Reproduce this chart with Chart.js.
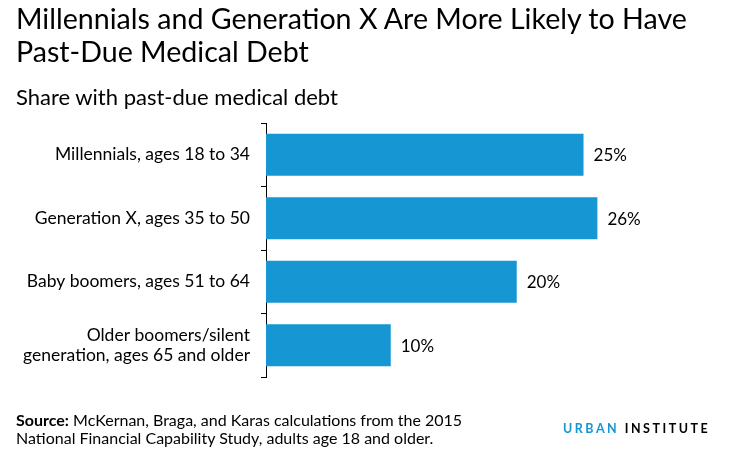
<!DOCTYPE html>
<html>
<head>
<meta charset="utf-8">
<script src="https://cdn.jsdelivr.net/npm/chart.js@4"></script>
<style>
  html, body { margin: 0; padding: 0; background: #fff; }
  body { width: 729px; height: 463px; position: relative; overflow: hidden; font-family: Lato, sans-serif; color: #000; }
  #wrap { position: absolute; left: 0; top: 0; width: 729px; height: 463px; }
  .txt { position: absolute; white-space: nowrap; }
  #title { left: 16px; top: 2px; font-size: 28.6px; line-height: 33px; }
  #subtitle { left: 16px; top: 84px; font-size: 22px; line-height: 1.2; }
  #source { left: 16px; top: 411px; font-size: 16px; line-height: 18px; }
  #logo { left: 563px; top: 421px; font-size: 12.5px; line-height: 1.2; font-weight: bold; letter-spacing: 2.5px; }
  #logo span { color: #1696d2; }
</style>
</head>
<body>
<div id="wrap"><canvas id="barChart"></canvas></div>
<div class="txt" id="title">Millennials and Generation X Are More Likely to Have<br>Past-Due Medical Debt</div>
<div class="txt" id="subtitle">Share with past-due medical debt</div>
<div class="txt" id="source"><b>Source:</b> McKernan, Braga, and Karas calculations from the 2015<br>National Financial Capability Study, adults age 18 and older.</div>
<div class="txt" id="logo"><span>URBAN</span> INSTITUTE</div>
<script>
var groupes = [
    'Millennials, ages 18 to 34',
    'Generation X, ages 35 to 50',
    'Baby boomers, ages 51 to 64',
    ['Older boomers/silent', 'generation, ages 65 and older']
];
var parts = [25.2, 26.3, 19.9, 9.9];
var etiquettes = ['25%', '26%', '20%', '10%'];

var myBarChart;

// étiquettes de valeur au bout des barres
var valeursPlugin = {
    id: 'valeurs',
    afterDatasetsDraw: function(chart) {
        var ctx = chart.ctx;
        var meta = chart.getDatasetMeta(0);
        ctx.save();
        ctx.font = '17px Lato';
        ctx.fillStyle = '#000';
        ctx.textAlign = 'left';
        ctx.textBaseline = 'middle';
        meta.data.forEach(function(bar, i) {
            ctx.fillText(etiquettes[i], bar.x + 10, bar.y + 1);
        });
        ctx.restore();
    }
};

function affiche_barChart() {
    var ctx = document.getElementById('barChart').getContext('2d');
    if (myBarChart) {
        myBarChart.destroy();
    }
    myBarChart = new Chart(ctx, {
        type: 'bar',
        data: {
            labels: groupes,
            datasets: [{
                data: parts,
                backgroundColor: '#1696d2',
                barPercentage: 0.66,
                categoryPercentage: 1
            }]
        },
        options: {
            indexAxis: 'y',
            responsive: false,
            animation: false,
            layout: {
                padding: { top: 123, bottom: 86, left: 0, right: 22 }
            },
            plugins: {
                legend: { display: false },
                tooltip: { enabled: false }
            },
            scales: {
                x: {
                    display: false,
                    min: 0,
                    max: 35
                },
                y: {
                    afterFit: function(scale) { scale.width = 266; },
                    border: { display: true, color: '#000', width: 1 },
                    grid: {
                        drawOnChartArea: false,
                        drawTicks: true,
                        tickLength: 5,
                        color: '#000',
                        offset: true
                    },
                    ticks: {
                        color: '#000',
                        padding: 11,
                        font: { family: 'Lato', size: 17.5, lineHeight: 1.17 }
                    }
                }
            }
        },
        plugins: [valeursPlugin]
    });
}

var c = document.getElementById('barChart');
c.width = 729;
c.height = 463;
c.style.width = '729px';
c.style.height = '463px';
affiche_barChart();
</script>
</body>
</html>
